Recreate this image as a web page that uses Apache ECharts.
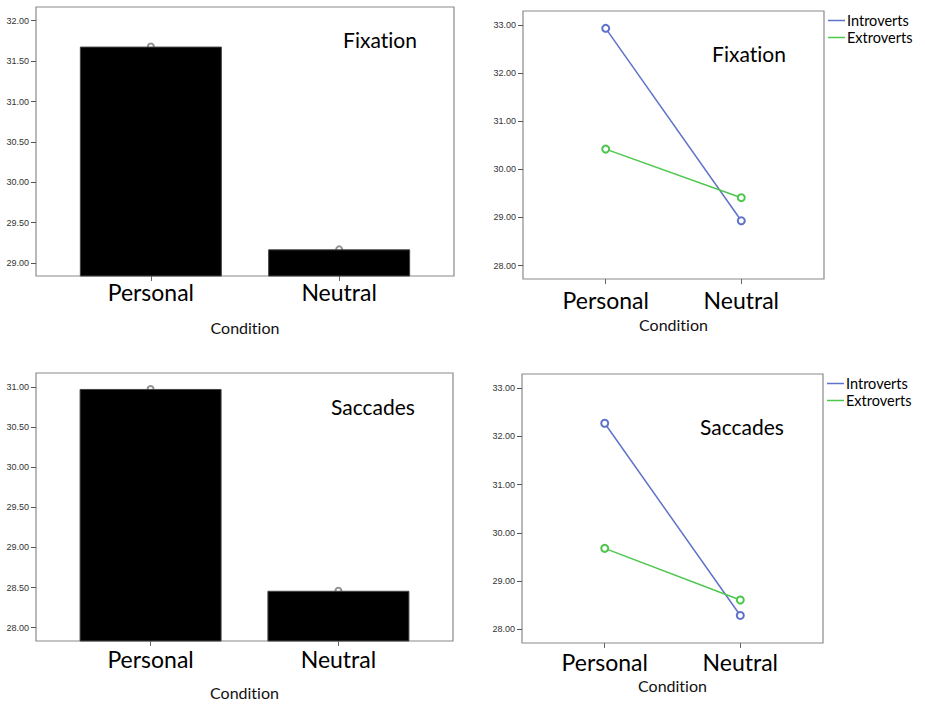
<!DOCTYPE html>
<html>
<head>
<meta charset="utf-8">
<script src="https://cdn.jsdelivr.net/npm/echarts@6/dist/echarts.min.js"></script>
<style>
html,body{margin:0;padding:0;background:#fff;}
#chart{width:925px;height:704px;}
#chart, #chart svg, #chart svg text{font-variant-ligatures:none;font-feature-settings:"liga" 0, "clig" 0;}
</style>
</head>
<body>
<div id="chart"></div>
<script>
// ---- data ----
var categories = ['Personal', 'Neutral'];
var fixationMeans = [31.68, 29.17];
var saccadeMeans = [30.975, 28.46];
var fixIntroverts = [32.93, 28.93];
var fixExtroverts = [30.42, 29.41];
var sacIntroverts = [32.27, 28.29];
var sacExtroverts = [29.68, 28.61];
var fixBarTicks = [29.0, 29.5, 30.0, 30.5, 31.0, 31.5, 32.0];
var sacBarTicks = [28.0, 28.5, 29.0, 29.5, 30.0, 30.5, 31.0];
var lineTicks = [28, 29, 30, 31, 32, 33];
var seriesNames = ['Introverts', 'Extroverts'];
var panelTitles = ['Fixation', 'Fixation', 'Saccades', 'Saccades'];
var xName = 'Condition';

// ---- styling ----
var BIG = 'Lato, "Open Sans", sans-serif';
var SMALL = '"Liberation Sans", Arial, sans-serif';
var FRAME = '#8a8a8a';
var BLUE = '#5f72c9';
var GREEN = '#4cc74c';
var catIdx = categories.map(function (c, i) { return i; });

function pts(vals) { return vals.map(function (v, i) { return [i, v]; }); }

var grids = [
  {left: 36, top: 7, width: 418, height: 269},
  {left: 523, top: 11, width: 301, height: 268},
  {left: 36, top: 373, width: 417, height: 268},
  {left: 522, top: 374, width: 301, height: 269}
].map(function (g) {
  return Object.assign({show: true, borderColor: FRAME, borderWidth: 1.2, backgroundColor: 'transparent'}, g);
});

var labelMargins = [4, 9, 6, 7];
var nameGaps = [43, 37, 43, 34];
var xAxes = grids.map(function (g, i) {
  return {
    type: 'value', gridIndex: i, min: -0.61, max: 1.61,
    axisLine: {show: false, onZero: false},
    splitLine: {show: false},
    axisTick: {show: true, length: 5, lineStyle: {color: '#666'}, customValues: catIdx},
    axisLabel: {
      customValues: catIdx, margin: labelMargins[i],
      fontFamily: BIG, fontSize: 23, color: '#000',
      formatter: function (v) { return categories[Math.round(v)]; }
    },
    name: xName, nameLocation: 'middle', nameGap: nameGaps[i],
    nameTextStyle: {fontFamily: BIG, fontSize: 16, color: '#111'}
  };
});

var yRanges = [[28.84, 32.17], [27.72, 33.29], [27.834, 31.174], [27.72, 33.29]];
var yTicks = [fixBarTicks, lineTicks, sacBarTicks, lineTicks];
var yAxes = grids.map(function (g, i) {
  return {
    type: 'value', gridIndex: i, min: yRanges[i][0], max: yRanges[i][1],
    axisLine: {show: false, onZero: false},
    splitLine: {show: false},
    axisTick: {show: true, length: 5, lineStyle: {color: '#555'}, customValues: yTicks[i]},
    axisLabel: {
      customValues: yTicks[i], margin: 7,
      fontFamily: SMALL, fontSize: 9, color: '#333',
      formatter: function (v) { return v.toFixed(2); }
    }
  };
});

var series = [];
[fixationMeans, saccadeMeans].forEach(function (vals, k) {
  var gi = k === 0 ? 0 : 2;
  series.push({
    type: 'scatter', xAxisIndex: gi, yAxisIndex: gi, z: 1,
    symbol: 'emptyCircle', symbolSize: 6,
    itemStyle: {color: '#777', borderWidth: 1},
    data: pts(vals), silent: true
  });
  series.push({
    type: 'bar', xAxisIndex: gi, yAxisIndex: gi, z: 2,
    barWidth: 142,
    itemStyle: {color: '#000', borderColor: '#444', borderWidth: 1},
    data: pts(vals), silent: true
  });
});
[[fixIntroverts, fixExtroverts, 1], [sacIntroverts, sacExtroverts, 3]].forEach(function (set) {
  [set[0], set[1]].forEach(function (vals, j) {
    var col = j === 0 ? BLUE : GREEN;
    series.push({
      name: seriesNames[j], type: 'line', xAxisIndex: set[2], yAxisIndex: set[2],
      symbol: 'emptyCircle', symbolSize: 7,
      lineStyle: {color: col, width: 1.5},
      itemStyle: {color: col, borderWidth: 1.2},
      data: pts(vals), silent: true
    });
  });
});

var legendBase = {
  orient: 'vertical', data: seriesNames, icon: 'rect',
  itemWidth: 17, itemHeight: 1.5, itemGap: 0, padding: 0,
  selectedMode: false,
  textStyle: {fontFamily: BIG, fontSize: 14.5, color: '#000', padding: [0, 0, 0, -3], lineHeight: 17}
};

var titlePos = [[380, 39], [749, 53], [373, 406], [742, 426]];
var graphics = panelTitles.map(function (t, i) {
  return {
    type: 'text', x: titlePos[i][0], y: titlePos[i][1],
    style: {text: t, fontFamily: BIG, fontSize: 21, fill: '#000', align: 'center', verticalAlign: 'middle'}
  };
});

var chart = echarts.init(document.getElementById('chart'), null, {renderer: 'svg'});
chart.setOption({
  animation: false,
  backgroundColor: '#fff',
  grid: grids,
  xAxis: xAxes,
  yAxis: yAxes,
  legend: [
    Object.assign({left: 828, top: 12}, legendBase),
    Object.assign({left: 827, top: 375}, legendBase)
  ],
  graphic: graphics,
  series: series
});
</script>
</body>
</html>
